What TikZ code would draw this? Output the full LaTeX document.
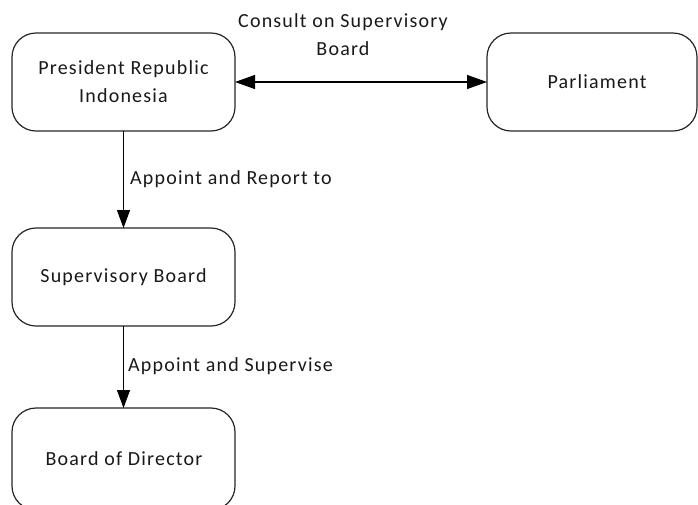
\documentclass[tikz,border=0pt]{standalone}
\usepackage{fontspec}
\setmainfont[LetterSpace=6]{Carlito}
\usetikzlibrary{arrows.meta}
\begin{document}
\begin{tikzpicture}[x=1pt,y=-1pt,
  box/.style={draw=black!85,line width=1.2pt,rounded corners=24pt,fill=white},
  lbl/.style={font=\fontsize{20}{28}\selectfont,text=black!90},
  conn/.style={line width=1.2pt,-{Triangle[length=18pt,width=13pt]}},
  biconn/.style={line width=1.2pt,{Triangle[length=20pt,width=14pt]}-{Triangle[length=20pt,width=14pt]}}]
\useasboundingbox (0,0) rectangle (698,504);
\begin{scope}
\clip (0,0) rectangle (698,504);
\draw[box] (12,33) rectangle (235,131);
\node[lbl,align=center] (pres) at (123.5,82) {President Republic\\Indonesia};
\coordinate (presR) at (235,82);
\coordinate (presB) at (123.5,131);
\draw[box] (487,33) rectangle (697,131);
\node[lbl] (parl) at (597,82) {Parliament};
\coordinate (parlL) at (487,82);
\draw[box] (12,228) rectangle (235,326);
\node[lbl] (sup) at (123.5,277) {Supervisory Board};
\coordinate (supT) at (123.5,228);
\coordinate (supB) at (123.5,326);
\draw[box] (12,408) rectangle (235,510);
\node[lbl] (bod) at (124,459) {Board of Director};
\coordinate (bodT) at (123.5,408);
\end{scope}
\draw[biconn] (presR) -- (parlL);
\draw[conn] (presB) -- (supT);
\draw[conn] (supB) -- (bodT);
\node[lbl,align=center] (l1) at (343,35) {Consult on Supervisory\\Board};
\node[lbl,anchor=west,inner sep=0pt] (l2) at (130,179) {Appoint and Report to};
\node[lbl,anchor=west,inner sep=0pt] (l3) at (128,366) {Appoint and Supervise};
\end{tikzpicture}
\end{document}
